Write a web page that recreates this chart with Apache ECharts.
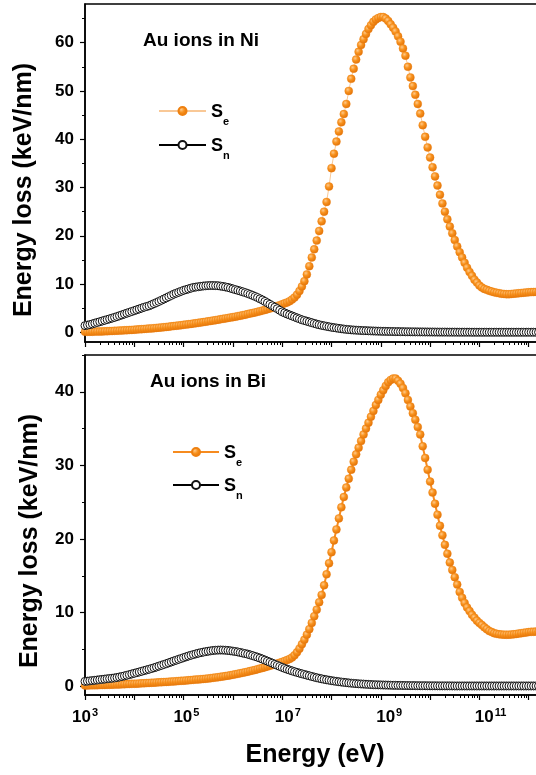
<!DOCTYPE html>
<html><head><meta charset="utf-8">
<script src="https://cdn.jsdelivr.net/npm/echarts@6/dist/echarts.min.js"></script>
<style>html,body{margin:0;padding:0;background:#fff}#c{width:536px;height:775px}</style>
</head><body><div id="c"></div>
<script>
// x grid: log10 of ion energy in eV
const logE = [
  3.00,3.05,3.10,3.15,3.20,3.25,3.30,3.35,3.40,3.45,3.50,3.55,3.60,3.65,3.70,3.75,3.80,3.85,3.90,3.95,
  4.00,4.05,4.10,4.15,4.20,4.25,4.30,4.35,4.40,4.45,4.50,4.55,4.60,4.65,4.70,4.75,4.80,4.85,4.90,4.95,
  5.00,5.05,5.10,5.15,5.20,5.25,5.30,5.35,5.40,5.45,5.50,5.55,5.60,5.65,5.70,5.75,5.80,5.85,5.90,5.95,
  6.00,6.05,6.10,6.15,6.20,6.25,6.30,6.35,6.40,6.45,6.50,6.55,6.60,6.65,6.70,6.75,6.80,6.85,6.90,6.95,
  7.00,7.05,7.10,7.15,7.20,7.25,7.30,7.35,7.40,7.45,7.50,7.55,7.60,7.65,7.70,7.75,7.80,7.85,7.90,7.95,
  8.00,8.05,8.10,8.15,8.20,8.25,8.30,8.35,8.40,8.45,8.50,8.55,8.60,8.65,8.70,8.75,8.80,8.85,8.90,8.95,
  9.00,9.05,9.10,9.15,9.20,9.25,9.30,9.35,9.40,9.45,9.50,9.55,9.60,9.65,9.70,9.75,9.80,9.85,9.90,9.95,
  10.00,10.05,10.10,10.15,10.20,10.25,10.30,10.35,10.40,10.45,10.50,10.55,10.60,10.65,10.70,10.75,10.80,10.85,10.90,10.95,
  11.00,11.05,11.10,11.15,11.20,11.25,11.30,11.35,11.40,11.45,11.50,11.55,11.60,11.65,11.70,11.75,11.80,11.85,11.90,11.95,
  12.00,12.05,12.10,12.15,12.20
];
// Au ions in Ni (keV/nm)
const niSe = [
  0.10,0.11,0.12,0.13,0.15,0.16,0.18,0.20,0.22,0.24,0.26,0.28,0.31,0.33,0.36,0.39,0.42,0.45,0.48,0.51,
  0.55,0.58,0.62,0.66,0.70,0.74,0.78,0.82,0.87,0.92,0.97,1.02,1.07,1.12,1.18,1.24,1.30,1.36,1.42,1.48,
  1.55,1.61,1.68,1.75,1.82,1.89,1.97,2.04,2.12,2.20,2.28,2.36,2.45,2.53,2.62,2.71,2.80,2.89,2.98,3.06,
  3.15,3.25,3.35,3.45,3.55,3.66,3.78,3.89,4.00,4.12,4.25,4.37,4.50,4.65,4.80,4.95,5.10,5.27,5.45,5.62,
  5.80,6.00,6.20,6.45,6.80,7.20,7.80,8.55,9.50,10.6,12.0,13.7,15.5,17.2,19.0,21.0,23.0,25.0,27.0,30.2,
  34.0,37.0,39.5,41.6,43.5,45.2,47.3,50.0,52.5,54.6,56.5,58.1,59.5,60.7,61.8,62.8,63.6,64.3,64.8,65.1,
  65.3,65.3,65.0,64.5,63.8,63.1,62.3,61.3,60.2,58.8,57.3,55.0,52.8,51.0,49.2,47.3,45.3,42.9,40.5,38.3,
  36.2,34.2,32.3,30.4,28.5,26.7,25.0,23.4,21.9,20.5,19.1,17.8,16.6,15.5,14.4,13.4,12.5,11.7,10.9,10.3,
  9.7,9.3,9.0,8.8,8.6,8.45,8.3,8.2,8.1,8.0,7.95,7.9,7.9,7.95,8.0,8.05,8.1,8.15,8.2,8.25,
  8.3,8.33,8.35,8.38,8.4
];
const niSn = [
  1.4,1.5,1.6,1.75,1.9,2.05,2.2,2.35,2.5,2.65,2.8,2.95,3.1,3.27,3.45,3.62,3.8,3.97,4.15,4.32,
  4.5,4.67,4.85,5.02,5.2,5.35,5.5,5.72,5.95,6.17,6.4,6.65,6.9,7.15,7.4,7.65,7.9,8.1,8.3,8.5,
  8.7,8.85,9.0,9.15,9.3,9.38,9.45,9.53,9.6,9.64,9.68,9.7,9.7,9.68,9.65,9.58,9.5,9.4,9.3,9.15,
  9.0,8.85,8.7,8.55,8.4,8.23,8.05,7.85,7.65,7.43,7.2,6.95,6.7,6.4,6.1,5.8,5.5,5.2,4.9,4.57,
  4.25,4.02,3.8,3.6,3.4,3.2,3.0,2.8,2.6,2.45,2.3,2.15,2.0,1.85,1.7,1.57,1.45,1.35,1.25,1.15,
  1.05,0.97,0.9,0.82,0.75,0.68,0.62,0.57,0.52,0.48,0.45,0.42,0.39,0.36,0.34,0.32,0.3,0.28,0.26,0.24,
  0.23,0.21,0.2,0.19,0.18,0.17,0.16,0.15,0.14,0.13,0.12,0.115,0.11,0.105,0.1,0.095,0.09,0.085,0.08,0.075,
  0.07,0.065,0.06,0.055,0.05,0.05,0.05,0.045,0.04,0.04,0.04,0.035,0.03,0.03,0.03,0.03,0.03,0.025,0.02,0.02,
  0.02,0.02,0.02,0.02,0.02,0.02,0.02,0.02,0.02,0.02,0.02,0.02,0.02,0.02,0.02,0.02,0.02,0.02,0.02,0.02,
  0.02,0.02,0.02,0.02,0.02
];
// Au ions in Bi (keV/nm)
const biSe = [
  0.10,0.105,0.11,0.12,0.13,0.14,0.15,0.16,0.17,0.18,0.19,0.20,0.21,0.225,0.24,0.255,0.27,0.285,0.30,0.315,
  0.33,0.345,0.36,0.38,0.40,0.42,0.44,0.46,0.48,0.50,0.52,0.54,0.56,0.58,0.60,0.625,0.65,0.675,0.70,0.725,
  0.75,0.775,0.80,0.83,0.86,0.89,0.92,0.95,0.98,1.01,1.05,1.09,1.13,1.17,1.22,1.27,1.32,1.37,1.43,1.49,
  1.55,1.61,1.68,1.75,1.82,1.89,1.97,2.05,2.13,2.21,2.30,2.39,2.48,2.57,2.67,2.77,2.87,2.97,3.08,3.19,
  3.30,3.42,3.55,3.70,3.90,4.20,4.60,5.10,5.70,6.30,7.00,7.75,8.60,9.50,10.4,11.4,12.4,13.7,15.2,16.7,
  18.2,19.8,21.3,22.8,24.3,25.7,27.0,28.2,29.4,30.5,31.5,32.4,33.3,34.2,35.0,35.8,36.6,37.4,38.2,38.9,
  39.6,40.2,40.8,41.3,41.6,41.8,41.8,41.5,41.1,40.5,39.8,38.9,38.0,37.1,36.2,35.2,34.2,32.6,31.0,29.4,
  27.8,26.3,24.8,23.3,21.8,20.5,19.2,18.0,16.8,15.8,14.8,13.8,12.8,12.0,11.3,10.7,10.2,9.7,9.3,8.9,
  8.6,8.3,8.0,7.75,7.5,7.35,7.2,7.12,7.05,7.02,7.0,7.0,7.0,7.02,7.05,7.1,7.15,7.2,7.25,7.3,
  7.35,7.38,7.4,7.42,7.45
];
const biSn = [
  0.65,0.68,0.72,0.76,0.80,0.84,0.88,0.92,0.96,1.00,1.04,1.08,1.12,1.18,1.25,1.32,1.40,1.48,1.57,1.66,
  1.75,1.84,1.93,2.02,2.12,2.21,2.30,2.40,2.50,2.61,2.72,2.83,2.95,3.06,3.18,3.30,3.42,3.53,3.65,3.76,
  3.88,3.99,4.10,4.20,4.30,4.39,4.48,4.56,4.63,4.69,4.75,4.80,4.85,4.88,4.90,4.91,4.90,4.88,4.85,4.81,
  4.76,4.71,4.65,4.58,4.50,4.43,4.35,4.25,4.15,4.04,3.93,3.81,3.68,3.54,3.40,3.26,3.12,2.97,2.83,2.69,
  2.55,2.42,2.30,2.19,2.08,1.97,1.87,1.77,1.68,1.59,1.50,1.41,1.32,1.23,1.15,1.07,1.00,0.93,0.87,0.81,
  0.75,0.70,0.65,0.60,0.56,0.52,0.48,0.44,0.41,0.38,0.35,0.32,0.30,0.28,0.26,0.24,0.22,0.20,0.19,0.18,
  0.17,0.16,0.15,0.14,0.13,0.12,0.11,0.105,0.10,0.095,0.09,0.085,0.08,0.075,0.07,0.065,0.06,0.06,0.06,0.055,
  0.05,0.05,0.05,0.045,0.04,0.04,0.04,0.04,0.04,0.035,0.03,0.03,0.03,0.03,0.03,0.03,0.03,0.03,0.03,0.03,
  0.03,0.03,0.03,0.03,0.03,0.03,0.03,0.03,0.03,0.03,0.03,0.03,0.03,0.03,0.03,0.03,0.03,0.03,0.03,0.03,
  0.03,0.03,0.03,0.03,0.03
];
const xLabelExps = [3,5,7,9,11];
const niYTicks = [0,10,20,30,40,50,60];
const niYMinor = [5,15,25,35,45,55,65];
const biYTicks = [0,10,20,30,40];
const biYMinor = [5,15,25,35,45];
const panelTitles = ['Au ions in Ni','Au ions in Bi'];
const legendSubs = ['e','n'];
const yName = 'Energy loss (keV/nm)';
const xName = 'Energy (eV)';

const FONT = '"Liberation Sans", Arial, Helvetica, sans-serif';
const ORANGE = '#F68B1F';
const xMinor = [];
for (let n = 3; n < 13; n++) for (let k = 2; k <= 9; k++) xMinor.push(n + Math.log10(k));

const pts = (ys) => logE.map((x, i) => [x, ys[i]]);
const orangeBall = {
  type: 'radial', x: 0.38, y: 0.35, r: 0.65,
  colorStops: [{offset: 0, color: '#FFC98A'}, {offset: 0.45, color: '#F8931F'}, {offset: 1, color: '#E27208'}]
};

// x tick label rich styles (labels drift slightly right in the original)
const xRich = {e: {fontSize: 11, fontWeight: 'bold', fontFamily: FONT, color: '#000', verticalAlign: 'top', lineHeight: 12, padding: [0, 0, 0, 1]}};
xLabelExps.forEach(n => {
  xRich['b' + n] = {fontSize: 17, fontWeight: 'bold', fontFamily: FONT, color: '#000', verticalAlign: 'bottom', lineHeight: 19,
                    padding: [0, 0, 0, (n - 3) * 2.8]};
});

function xMain(grid, labels) {
  return {
    type: 'value', gridIndex: grid, min: 3, max: 13, interval: 1, position: 'bottom',
    axisLine: {show: true, onZero: false, lineStyle: {color: '#000', width: 1.5}},
    axisTick: {show: true, inside: false, length: 5, lineStyle: {color: '#000', width: 1.2}},
    splitLine: {show: false},
    axisLabel: {
      show: labels, margin: 12, color: '#000',
      formatter: v => {
        const n = Math.round(v);
        return xLabelExps.includes(n) && Math.abs(v - n) < 1e-6 ? '{b' + n + '|10}{e|' + n + '}' : '';
      },
      rich: xRich
    }
  };
}
function xMinorAxis(grid) {
  return {
    type: 'value', gridIndex: grid, min: 3, max: 13, position: 'bottom',
    axisLine: {show: false, onZero: false}, splitLine: {show: false}, axisLabel: {show: false},
    axisTick: {show: true, inside: false, length: 3, customValues: xMinor, lineStyle: {color: '#000', width: 1}}
  };
}
function yMain(grid, min, max, ticks) {
  return {
    type: 'value', gridIndex: grid, min: min, max: max, position: 'left',
    axisLine: {show: true, onZero: false, lineStyle: {color: '#000', width: 1.5}},
    axisTick: {show: true, inside: false, length: 5, customValues: ticks, lineStyle: {color: '#000', width: 1.2}},
    splitLine: {show: false},
    axisLabel: {show: true, customValues: ticks, margin: 11, color: '#000', fontSize: 17, fontWeight: 'bold', fontFamily: FONT}
  };
}
function yMinorAxis(grid, min, max, ticks) {
  return {
    type: 'value', gridIndex: grid, min: min, max: max, position: 'left',
    axisLine: {show: false, onZero: false}, splitLine: {show: false}, axisLabel: {show: false},
    axisTick: {show: true, inside: false, length: 3, customValues: ticks, lineStyle: {color: '#000', width: 1}}
  };
}
function seSeries(name, data, xi, lineStyle) {
  return {
    name: name, type: 'line', xAxisIndex: xi, yAxisIndex: xi, data: data,
    symbol: 'circle', symbolSize: 8, showSymbol: true, z: 2,
    lineStyle: lineStyle,
    itemStyle: {color: orangeBall, borderColor: '#EE8010', borderWidth: 0.4},
    emphasis: {disabled: true}
  };
}
function snSeries(name, data, xi) {
  return {
    name: name, type: 'line', xAxisIndex: xi, yAxisIndex: xi, data: data,
    symbol: 'circle', symbolSize: 8, showSymbol: true, z: 3,
    lineStyle: {color: '#000', width: 1.5},
    itemStyle: {color: '#fff', borderColor: '#111', borderWidth: 1},
    emphasis: {disabled: true}
  };
}
// legend labels "S" with subscript, drawn as text next to the legend icons
function legendLabel(x, y, sub) {
  return [
    {type: 'text', x: x, y: y, style: {text: 'S', fontSize: 18, fontWeight: 'bold', fontFamily: FONT, fill: '#000', align: 'left', verticalAlign: 'middle'}},
    {type: 'text', x: x + 12, y: y + 10, style: {text: sub, fontSize: 11, fontWeight: 'bold', fontFamily: FONT, fill: '#000', align: 'left', verticalAlign: 'middle'}}
  ];
}

const chart = echarts.init(document.getElementById('c'), null, {renderer: 'canvas'});
chart.setOption({
  animation: false,
  backgroundColor: '#fff',
  grid: [
    {left: 85, top: 4, width: 493, height: 338, show: true, borderColor: '#000', borderWidth: 1.5, backgroundColor: 'transparent', outerBoundsMode: 'none', containLabel: false},
    {left: 85, top: 355, width: 493, height: 340, show: true, borderColor: '#000', borderWidth: 1.5, backgroundColor: 'transparent', outerBoundsMode: 'none', containLabel: false}
  ],
  xAxis: [xMain(0, false), xMinorAxis(0), xMain(1, true), xMinorAxis(1)],
  yAxis: [yMain(0, -2, 68, niYTicks), yMinorAxis(0, -2, 68, niYMinor), yMain(1, -1.2, 45, biYTicks), yMinorAxis(1, -1.2, 45, biYMinor)],
  title: [
    {text: panelTitles[0], left: 143, top: 31, padding: 0, textStyle: {fontSize: 19, fontWeight: 'bold', fontFamily: FONT, color: '#000'}},
    {text: panelTitles[1], left: 150, top: 372, padding: 0, textStyle: {fontSize: 19, fontWeight: 'bold', fontFamily: FONT, color: '#000'}}
  ],
  legend: [
    {data: ['Se Ni', 'Sn Ni'], orient: 'vertical', left: 158, top: 106, padding: 0, itemWidth: 47, itemHeight: 10, itemGap: 24,
     formatter: () => '', selectedMode: false},
    {data: ['Se Bi', 'Sn Bi'], orient: 'vertical', left: 172, top: 447, padding: 0, itemWidth: 46, itemHeight: 10, itemGap: 23,
     formatter: () => '', selectedMode: false}
  ],
  graphic: [
    {type: 'text', x: 24, y: 190, rotation: Math.PI / 2,
     style: {text: yName, fontSize: 25, fontWeight: 'bold', fontFamily: FONT, fill: '#000', align: 'center', verticalAlign: 'middle'}},
    {type: 'text', x: 30, y: 541, rotation: Math.PI / 2,
     style: {text: yName, fontSize: 25, fontWeight: 'bold', fontFamily: FONT, fill: '#000', align: 'center', verticalAlign: 'middle'}},
    {type: 'text', x: 315, y: 755,
     style: {text: xName, fontSize: 25, fontWeight: 'bold', fontFamily: FONT, fill: '#000', align: 'center', verticalAlign: 'middle'}}
  ].concat(
    legendLabel(211, 112, legendSubs[0]), legendLabel(211, 146, legendSubs[1]),
    legendLabel(224, 453, legendSubs[0]), legendLabel(224, 486, legendSubs[1])
  ),
  series: [
    seSeries('Se Ni', pts(niSe), 0, {color: '#F9C896', width: 1}),
    snSeries('Sn Ni', pts(niSn), 0),
    seSeries('Se Bi', pts(biSe), 2, {color: ORANGE, width: 2}),
    snSeries('Sn Bi', pts(biSn), 2)
  ]
});
</script>
</body></html>
